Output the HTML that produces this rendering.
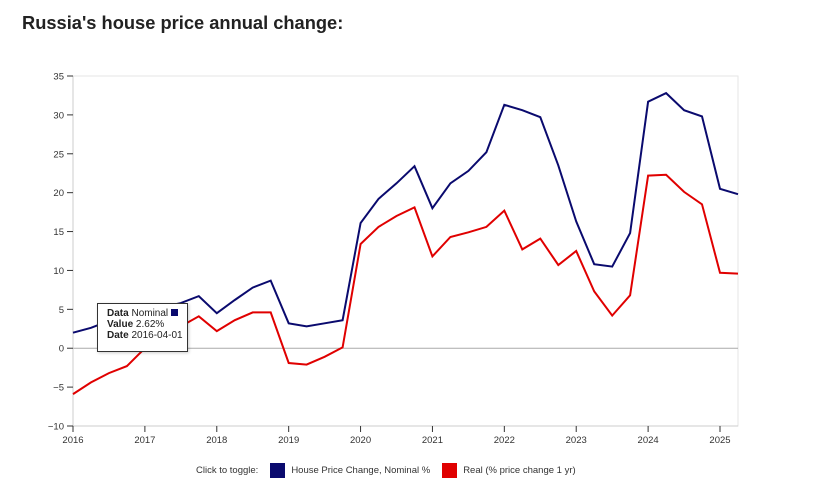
<!DOCTYPE html>
<html><head><meta charset="utf-8"><style>
body{margin:0;width:828px;height:487px;background:#fff;font-family:"Liberation Sans",sans-serif;overflow:hidden;position:relative}
h1{position:absolute;left:22px;top:12px;margin:0;font-size:18.3px;font-weight:bold;color:#222}
svg{position:absolute;left:0;top:0}
.tip{position:absolute;left:97px;top:303px;width:91px;height:49px;border:1px solid #333;background:#fff;font-size:10px;line-height:11px;padding:4px 0 0 9px;box-sizing:border-box;color:#222;box-shadow:1px 1px 3px rgba(0,0,0,.2)}
.legend{position:absolute;top:463px;left:196px;font-size:9.5px;color:#333;display:flex;align-items:center}
.sw{width:15px;height:15px;display:inline-block;margin:0 6px 0 12px}
</style></head><body>
<h1>Russia's house price annual change:</h1>
<svg id="c" width="828" height="487"></svg>
<div class="tip"><b>Data</b> Nominal <span style="display:inline-block;width:7px;height:7px;background:#0a0a6e"></span><br><b>Value</b> 2.62%<br><b>Date</b> 2016-04-01</div>
<div class="legend">Click to toggle:
<span class="sw" style="background:#0a0a6e"></span><span>House Price Change, Nominal %</span>
<span class="sw" style="background:#e00000"></span><span>Real (% price change 1 yr)</span></div>
<script>
const startYear=2016;
const nominal=[2.0,2.62,3.5,4.2,5.0,5.3,5.8,6.7,4.5,6.2,7.8,8.7,3.2,2.8,3.2,3.6,16.1,19.2,21.2,23.4,18.0,21.2,22.8,25.2,31.3,30.6,29.7,23.5,16.3,10.8,10.5,14.8,31.7,32.8,30.6,29.8,20.5,19.8];
const real=[-5.9,-4.4,-3.2,-2.3,0,2.5,2.8,4.1,2.2,3.6,4.6,4.6,-1.9,-2.1,-1.1,0.1,13.4,15.6,17.0,18.1,11.8,14.3,14.9,15.6,17.7,12.7,14.1,10.7,12.5,7.3,4.2,6.8,22.2,22.3,20.1,18.5,9.7,9.6];
const yTicks=[-10,-5,0,5,10,15,20,25,30,35];
const xTicks=[2016,2017,2018,2019,2020,2021,2022,2023,2024,2025];
const X0=73,X1=738,Y0=426,Y1=76;
const xs=t=>X0+(t-2016)*(720-73)/9;
const ys=v=>Y0-(v+10)*(Y0-Y1)/45;
const svg=document.getElementById('c');const NS='http://www.w3.org/2000/svg';
function mk(t,a,p){const e=document.createElementNS(NS,t);for(const k in a)e.setAttribute(k,a[k]);(p||svg).appendChild(e);return e;}
let r=mk('rect',{x:X0,y:Y1,width:X1-X0,height:Y0-Y1,fill:'none',stroke:'#e6e6e6'});

let z=mk('line',{x1:X0,x2:X1,y1:ys(0),y2:ys(0),stroke:'#aaa'});

mk('line',{x1:X0,x2:X0,y1:Y1,y2:Y0,stroke:'#ccc'});
mk('line',{x1:X0,x2:X1,y1:Y0,y2:Y0,stroke:'#ccc'});
yTicks.forEach(v=>{const y=ys(v);mk('line',{x1:X0-6,x2:X0,y1:y,y2:y,stroke:'#333'});
const t=mk('text',{x:X0-9,y:y+3.5,'font-size':9.5,'text-anchor':'end',fill:'#333'});t.textContent=v<0?'−'+(-v):v;
});
xTicks.forEach(v=>{const x=xs(v);mk('line',{x1:x,x2:x,y1:Y0,y2:Y0+6,stroke:'#333'});
const t=mk('text',{x:x,y:Y0+17,'font-size':9.5,'text-anchor':'middle',fill:'#333'});t.textContent=v;
});
function line(d,c,n){const p=mk('path',{d:d.map((v,i)=>(i?'L':'M')+xs(startYear+i/4).toFixed(1)+','+ys(v).toFixed(1)).join(''),fill:'none',stroke:c,'stroke-width':2});
}
line(real,'#e00000','real-line');
line(nominal,'#0a0a6e','nominal-line');
</script>
</body></html>
